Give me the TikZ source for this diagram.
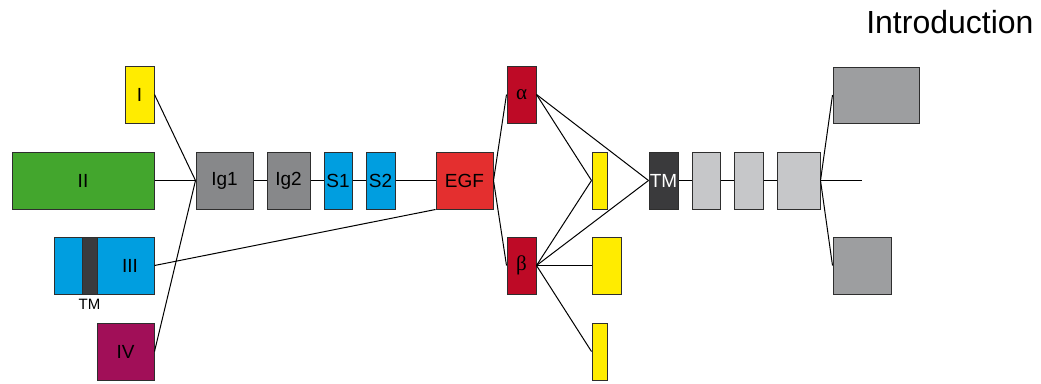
\documentclass[tikz,border=0pt]{standalone}
\usepackage{fontspec}
\setmainfont{Liberation Sans}
\newfontfamily\greekfont{Liberation Serif}
\usepackage{tikz}
\usetikzlibrary{positioning}

\definecolor{exonI}{HTML}{FFEC00}
\definecolor{exonII}{HTML}{43A62D}
\definecolor{exonIV}{HTML}{A10F58}
\definecolor{iggray}{HTML}{87888A}
\definecolor{sblue}{HTML}{009EE0}
\definecolor{egfred}{HTML}{E42F2F}
\definecolor{chainred}{HTML}{BE0A26}
\definecolor{tmdark}{HTML}{3A3A3C}
\definecolor{cytogray}{HTML}{C6C7C9}
\definecolor{tailgray}{HTML}{9D9EA0}
\definecolor{edge}{HTML}{2E2E2E}

\begin{document}
\begin{tikzpicture}[
    x=1pt, y=-1pt,
    every node/.style={font=\fontsize{19}{20}\selectfont},
    exonbox/.style={
        rectangle,
        draw=edge,
        line width=1pt,
        inner sep=0pt,
        minimum height=57pt
    },
    link/.style={line width=1pt, draw=black}
]
\useasboundingbox (0,0) rectangle (1041,383);

% alternative first exons
\node (I)   [exonbox, fill=exonI,  minimum width=29pt]  at (139.5,94.5)  {I};
\node (II)  [exonbox, fill=exonII, minimum width=142pt] at (83,180.5)    {II};
\node (III) [exonbox, fill=sblue,  minimum width=100pt] at (104,265.5)   {};
\node (tmbar) [exonbox, fill=tmdark, minimum width=15pt] at (89.5,265.5) {};
\node (IIIlbl) at (130,266) {III};
\node (tmlbl) [font=\fontsize{15}{16}\selectfont, below=1pt of tmbar] {TM};
\node (IV)  [exonbox, fill=exonIV, minimum width=57pt]  at (125.5,351.5) {IV};

% extracellular part
\node (Ig1) [exonbox, fill=iggray, minimum width=57pt] at (224.5,180.5) {Ig1};
\node (Ig2) [exonbox, fill=iggray, minimum width=43pt] at (288.5,180.5) {Ig2};
\node (S1)  [exonbox, fill=sblue,  minimum width=28pt] at (338,180.5)   {S1};
\node (S2)  [exonbox, fill=sblue,  minimum width=29pt] at (380.5,180.5) {S2};
\node (EGF) [exonbox, fill=egfred, minimum width=57pt] at (464.5,180.5) {EGF};

% alpha / beta variants
\node (alpha) [exonbox, fill=chainred, minimum width=29pt] at (521.5,94.5)  {\greekfont\fontsize{21}{22}\selectfont α};
\node (beta)  [exonbox, fill=chainred, minimum width=29pt] at (521.5,265.5) {\greekfont\fontsize{21}{22}\selectfont β};
\node (stalk1) [exonbox, fill=exonI, minimum width=15pt] at (599.5,180.5) {};
\node (stalk2) [exonbox, fill=exonI, minimum width=29pt] at (606.5,265.5) {};
\node (stalk3) [exonbox, fill=exonI, minimum width=15pt] at (599.5,351.5) {};

% membrane and cytoplasmic tail
\node (TM)  [exonbox, fill=tmdark, text=white, minimum width=29pt] at (663.5,180.5) {TM};
\node (cyto1) [exonbox, fill=cytogray, minimum width=28pt] at (706,180.5)   {};
\node (cyto2) [exonbox, fill=cytogray, minimum width=29pt] at (748.5,180.5) {};
\node (cyto3) [exonbox, fill=cytogray, minimum width=43pt] at (798.5,180.5) {};
\node (tailA) [exonbox, fill=tailgray, minimum width=86pt, minimum height=56pt] at (876,95) {};
\node (tailB) [exonbox, fill=tailgray, minimum width=58pt] at (862,265.5) {};
\coordinate (tailC) at (862,180.5);

\node (title) [anchor=base east, font=\fontsize{32}{34}\selectfont] at (1037,33) {Introduction};

% splicing connections
\draw [link] (I.east)   -- (Ig1.west);
\draw [link] (II.east)  -- (Ig1.west);
\draw [link] (IV.east)  -- (Ig1.west);
\draw [link] (III.east) -- (EGF.south west);
\draw [link] (Ig1) -- (Ig2);
\draw [link] (Ig2) -- (S1);
\draw [link] (S1) -- (S2);
\draw [link] (S2) -- (EGF);
\draw [link] (EGF.east) -- (alpha.west);
\draw [link] (EGF.east) -- (beta.west);
\draw [link] (alpha.east) -- (stalk1.west);
\draw [link] (alpha.east) -- (TM.west);
\draw [link] (beta.east) -- (stalk1.west);
\draw [link] (beta.east) -- (TM.west);
\draw [link] (beta.east) -- (stalk2.west);
\draw [link] (beta.east) -- (stalk3.west);
\draw [link] (TM) -- (cyto1);
\draw [link] (cyto1) -- (cyto2);
\draw [link] (cyto2) -- (cyto3);
\draw [link] (cyto3.east) -- (tailA.west);
\draw [link] (cyto3.east) -- (tailB.west);
\draw [link] (cyto3.east) -- (tailC);

\end{tikzpicture}
\end{document}
